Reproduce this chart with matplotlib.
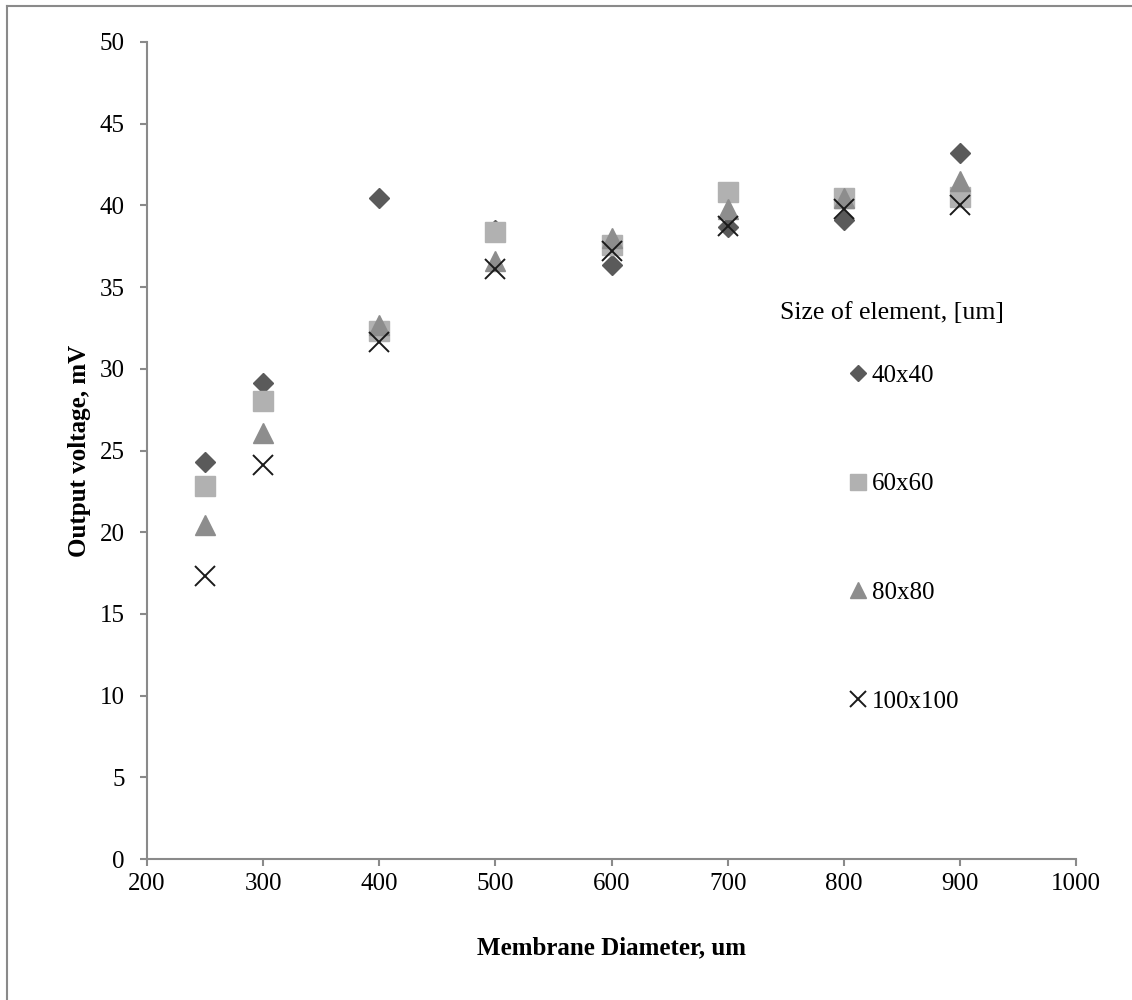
import matplotlib
matplotlib.use("Agg")
import matplotlib.pyplot as plt
from matplotlib.lines import Line2D

# Membrane diameter (um) and output voltage (mV) for each element size
diameter = [250, 300, 400, 500, 600, 700, 800, 900]
v_40x40 = [24.3, 29.15, 40.45, 38.5, 36.35, 38.7, 39.1, 43.2]
v_60x60 = [22.8, 28.0, 32.3, 38.4, 37.6, 40.8, 40.45, 40.5]
v_80x80 = [20.45, 26.05, 32.7, 36.6, 38.0, 39.8, 40.45, 41.5]
v_100x100 = [17.35, 24.1, 31.65, 36.1, 37.2, 38.75, 39.8, 40.0]

series_labels = ["40x40", "60x60", "80x80", "100x100"]
x_ticks = [200, 300, 400, 500, 600, 700, 800, 900, 1000]
y_ticks = [0, 5, 10, 15, 20, 25, 30, 35, 40, 45, 50]

plt.rcParams["font.family"] = ["Liberation Serif", "DejaVu Serif"]

fig = plt.figure(figsize=(11.32, 10.0), dpi=100)
ax = fig.add_axes([147 / 1132, 1 - 859 / 1000, (1076 - 147) / 1132, (859 - 42) / 1000])

styles = [
    dict(marker="D", color="#5a5a5a", ms=10.0, ls="none"),
    dict(marker="s", color="#b1b1b1", ms=14.5, ls="none"),
    dict(marker="^", color="#8d8d8d", ms=14.5, ls="none"),
    dict(marker="x", color="#1a1a1a", ms=14.5, ls="none", mew=1.4),
]
series = [v_40x40, v_60x60, v_80x80, v_100x100]
handles = []
for vals, st, lab in zip(series, styles, series_labels):
    (h,) = ax.plot(diameter, vals, label=lab, **st)
    handles.append(h)

ax.set_xlim(200, 1000)
ax.set_ylim(0, 50)
ax.set_xticks(x_ticks)
ax.set_yticks(y_ticks)
ax.tick_params(axis="both", direction="out", length=5, width=1.5,
               color="#8a8a8a", labelsize=18)
ax.tick_params(axis="y", pad=11)
ax.tick_params(axis="x", pad=5)

for side in ["top", "right"]:
    ax.spines[side].set_visible(False)
for side in ["left", "bottom"]:
    ax.spines[side].set_color("#8a8a8a")
    ax.spines[side].set_linewidth(1.5)

ax.set_xlabel("Membrane Diameter, um", fontsize=18, fontweight="bold", labelpad=30)
ax.set_ylabel("Output voltage, mV", fontsize=18, fontweight="bold", labelpad=6)

# Legend: title as separate text, entries stacked below
fig.text(780 / 1132, 1 - 313 / 1000, "Size of element, [um]", fontsize=18.6,
         ha="left", va="center")
leg = fig.legend(handles=handles, labels=series_labels, loc="upper left",
                 bbox_to_anchor=(847 / 1132, 1 - 364 / 1000), frameon=False,
                 fontsize=18, markerscale=0.8, handlelength=0.9,
                 handletextpad=0.1, labelspacing=3.45, borderpad=0,
                 borderaxespad=0)

# Outer chart border
fig.add_artist(Line2D([7 / 1132, 7 / 1132], [0, 1 - 6 / 1000],
                      transform=fig.transFigure, color="#8a8a8a", lw=1.5))
fig.add_artist(Line2D([7 / 1132, 1], [1 - 6 / 1000, 1 - 6 / 1000],
                      transform=fig.transFigure, color="#8a8a8a", lw=1.5))

fig.savefig("out.png", dpi=100)
